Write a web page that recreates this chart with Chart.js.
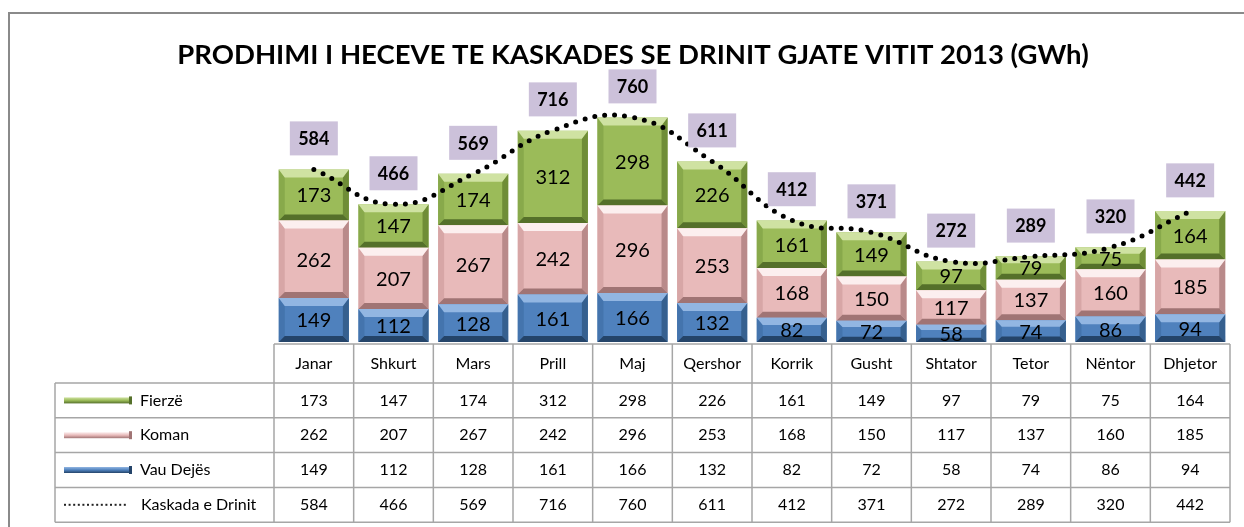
<!DOCTYPE html>
<html>
<head>
<meta charset="utf-8">
<script src="https://cdn.jsdelivr.net/npm/chart.js@4.4.0/dist/chart.umd.min.js"></script>
<style>
  html, body { margin: 0; padding: 0; background: #fff; }
  #wrap { width: 1244px; height: 527px; }
</style>
</head>
<body>
<div id="wrap"><canvas id="myChart" width="1244" height="527"></canvas></div>
<script>
// Data (GWh)
var months = ['Janar', 'Shkurt', 'Mars', 'Prill', 'Maj', 'Qershor', 'Korrik', 'Gusht', 'Shtator', 'Tetor', 'Nëntor', 'Dhjetor'];
var fierze = [173, 147, 174, 312, 298, 226, 161, 149, 97, 79, 75, 164];
var koman = [262, 207, 267, 242, 296, 253, 168, 150, 117, 137, 160, 185];
var vauDejes = [149, 112, 128, 161, 166, 132, 82, 72, 58, 74, 86, 94];
var kaskada = [584, 466, 569, 716, 760, 611, 412, 371, 272, 289, 320, 442];
var seriesNames = ['Fierzë', 'Koman', 'Vau Dejës', 'Kaskada e Drinit'];
var titleText = 'PRODHIMI I HECEVE TE KASKADES SE DRINIT GJATE VITIT 2013 (GWh)';

var FONT = 'Lato, "Open Sans", sans-serif';

// bevel colours for each station
var green = {face: '#9bbb59', top: '#cfe2a2', left: '#88a94b', right: '#6f8d37', bottom: '#55702a'};
var pink = {face: '#e8baba', top: '#fcefef', left: '#d7a6a6', right: '#b98a8a', bottom: '#a07474'};
var blue = {face: '#4f81bd', top: '#92b6e2', left: '#4474ad', right: '#36608f', bottom: '#244469'};

function poly(ctx, pts, color) {
  ctx.beginPath();
  ctx.moveTo(pts[0][0], pts[0][1]);
  for (var i = 1; i < pts.length; i++) ctx.lineTo(pts[i][0], pts[i][1]);
  ctx.closePath();
  ctx.fillStyle = color;
  ctx.fill();
}

function drawBevel(ctx, l, t, r, b, pal) {
  var h = b - t;
  var dt = Math.min(8, h * 0.3);
  var ds = Math.min(6, h * 0.3);
  var db = Math.min(6, h * 0.25);
  poly(ctx, [[l, t], [l + ds, t + dt], [l + ds, b - db], [l, b]], pal.left);
  poly(ctx, [[r, t], [r - ds, t + dt], [r - ds, b - db], [r, b]], pal.right);
  poly(ctx, [[l, b], [r, b], [r - ds, b - db], [l + ds, b - db]], pal.bottom);
  poly(ctx, [[l, t], [r, t], [r - ds, t + dt], [l + ds, t + dt]], pal.top);
}

// frame round the whole picture
var framePlugin = {
  id: 'frame',
  beforeDraw: function(chart) {
    var ctx = chart.ctx;
    ctx.save();
    ctx.fillStyle = '#fff';
    ctx.fillRect(0, 0, chart.width, chart.height);
    ctx.strokeStyle = '#8a8a8a';
    ctx.lineWidth = 2;
    ctx.beginPath();
    ctx.moveTo(9, chart.height);
    ctx.lineTo(9, 13);
    ctx.lineTo(chart.width, 13);
    ctx.stroke();
    ctx.restore();
  }
};

// 3D look + value inside each segment
var bevelPlugin = {
  id: 'bevel',
  afterDatasetDraw: function(chart, args) {
    var meta = args.meta;
    if (meta.type !== 'bar') return;
    var ds = chart.data.datasets[args.index];
    var ctx = chart.ctx;
    ctx.save();
    meta.data.forEach(function(bar, i) {
      var p = bar.getProps(['x', 'y', 'base', 'width'], true);
      var l = p.x - p.width / 2, r = p.x + p.width / 2;
      drawBevel(ctx, l, p.y, r, p.base, ds.bevel);
      ctx.fillStyle = '#000';
      ctx.font = '20px ' + FONT;
      ctx.textAlign = 'center';
      ctx.textBaseline = 'middle';
      ctx.fillText(ds.data[i], p.x, (p.y + p.base) / 2 + 1);
    });
    ctx.restore();
  }
};

// lilac boxes with the cascade totals
var totalsPlugin = {
  id: 'totals',
  afterDatasetsDraw: function(chart) {
    var ctx = chart.ctx;
    var yScale = chart.scales.y;
    var lineMeta = chart.getDatasetMeta(3);
    ctx.save();
    lineMeta.data.forEach(function(pt, i) {
      var cy = yScale.getPixelForValue(kaskada[i]) - 31;
      ctx.fillStyle = '#ccc1da';
      ctx.fillRect(pt.x - 24, cy - 17, 48, 34);
      ctx.fillStyle = '#000';
      ctx.font = 'bold 18px ' + FONT;
      ctx.textAlign = 'center';
      ctx.textBaseline = 'middle';
      ctx.fillText(kaskada[i], pt.x, cy + 1);
    });
    ctx.restore();
  }
};

// data table under the bars
var tablePlugin = {
  id: 'dataTable',
  afterDraw: function(chart) {
    var ctx = chart.ctx;
    var x = chart.scales.x;
    var half = (x.getPixelForValue(1) - x.getPixelForValue(0)) / 2;
    var colLeft = x.getPixelForValue(0) - half;
    var colRight = x.getPixelForValue(months.length - 1) + half;
    var headTop = chart.chartArea.bottom + 2;
    var rowTop = headTop + 39;
    var rowH = 34.8;
    var labelLeft = 55;
    var rows = [
      {values: fierze, key: green},
      {values: koman, key: pink},
      {values: vauDejes, key: blue},
      {values: kaskada, key: null}
    ];
    var bottom = rowTop + rowH * rows.length;

    ctx.save();
    ctx.strokeStyle = '#a6a6a6';
    ctx.lineWidth = 1.5;
    ctx.beginPath();
    // header row
    ctx.moveTo(colLeft, headTop);
    ctx.lineTo(colRight, headTop);
    for (var i = 0; i <= months.length; i++) {
      var cx = colLeft + i * half * 2;
      ctx.moveTo(cx, headTop);
      ctx.lineTo(cx, bottom);
    }
    for (var r = 0; r <= rows.length; r++) {
      ctx.moveTo(labelLeft, rowTop + r * rowH);
      ctx.lineTo(colRight, rowTop + r * rowH);
    }
    ctx.moveTo(labelLeft, rowTop);
    ctx.lineTo(labelLeft, bottom);
    ctx.stroke();

    ctx.fillStyle = '#000';
    ctx.font = '16px ' + FONT;
    ctx.textAlign = 'center';
    ctx.textBaseline = 'middle';
    months.forEach(function(m, i) {
      ctx.fillText(m, x.getPixelForValue(i), headTop + 19.5);
    });
    rows.forEach(function(row, r) {
      var cy = rowTop + r * rowH + rowH / 2;
      row.values.forEach(function(v, i) {
        ctx.fillText(v, x.getPixelForValue(i), cy);
      });
    });

    // legend keys
    ctx.textAlign = 'left';
    rows.forEach(function(row, r) {
      var cy = rowTop + r * rowH + rowH / 2;
      if (row.key) {
        var g = ctx.createLinearGradient(0, cy - 3, 0, cy + 3);
        g.addColorStop(0, row.key.top);
        g.addColorStop(0.5, row.key.face);
        g.addColorStop(1, row.key.bottom);
        ctx.fillStyle = g;
        ctx.fillRect(64, cy - 3, 66, 6);
        ctx.fillStyle = row.key.bottom;
        ctx.fillRect(129, cy - 4, 3, 8);
      } else {
        ctx.fillStyle = '#222';
        for (var d = 64; d < 126; d += 4.6) ctx.fillRect(d, cy - 1, 2, 2);
      }
      ctx.fillStyle = '#000';
      ctx.fillText(seriesNames[r], row.key ? 140 : 141, cy);
    });
    ctx.restore();
  }
};

var ctx = document.getElementById('myChart');
var myChart = new Chart(ctx, {
  type: 'bar',
  data: {
    labels: months,
    datasets: [
      {
        label: seriesNames[2],
        data: vauDejes,
        backgroundColor: blue.face,
        bevel: blue,
        stack: 'prod',
        order: 1
      },
      {
        label: seriesNames[1],
        data: koman,
        backgroundColor: pink.face,
        bevel: pink,
        stack: 'prod',
        order: 1
      },
      {
        label: seriesNames[0],
        data: fierze,
        backgroundColor: green.face,
        bevel: green,
        stack: 'prod',
        order: 1
      },
      {
        type: 'line',
        label: seriesNames[3],
        data: kaskada,
        stack: 'total',
        borderColor: '#000',
        borderWidth: 5,
        borderDash: [0, 10],
        borderCapStyle: 'round',
        pointRadius: 0,
        tension: 0.45,
        order: 0
      }
    ]
  },
  options: {
    responsive: false,
    animation: false,
    layout: {
      padding: {left: 36, right: 14, top: 0, bottom: 185}
    },
    datasets: {
      bar: {
        categoryPercentage: 1,
        barPercentage: 0.88,
        borderWidth: 0
      }
    },
    plugins: {
      legend: {display: false},
      tooltip: {enabled: false},
      title: {
        display: true,
        text: titleText,
        color: '#000',
        font: {family: FONT, size: 27.5, weight: 'bold'},
        padding: {top: 39, bottom: 4}
      }
    },
    scales: {
      x: {
        display: false,
        stacked: true
      },
      y: {
        stacked: true,
        min: 0,
        max: 900,
        grid: {display: false},
        border: {display: false},
        ticks: {display: false},
        afterFit: function(scale) {
          scale.width = 238;
        }
      }
    }
  },
  plugins: [framePlugin, bevelPlugin, totalsPlugin, tablePlugin]
});
</script>
</body>
</html>
